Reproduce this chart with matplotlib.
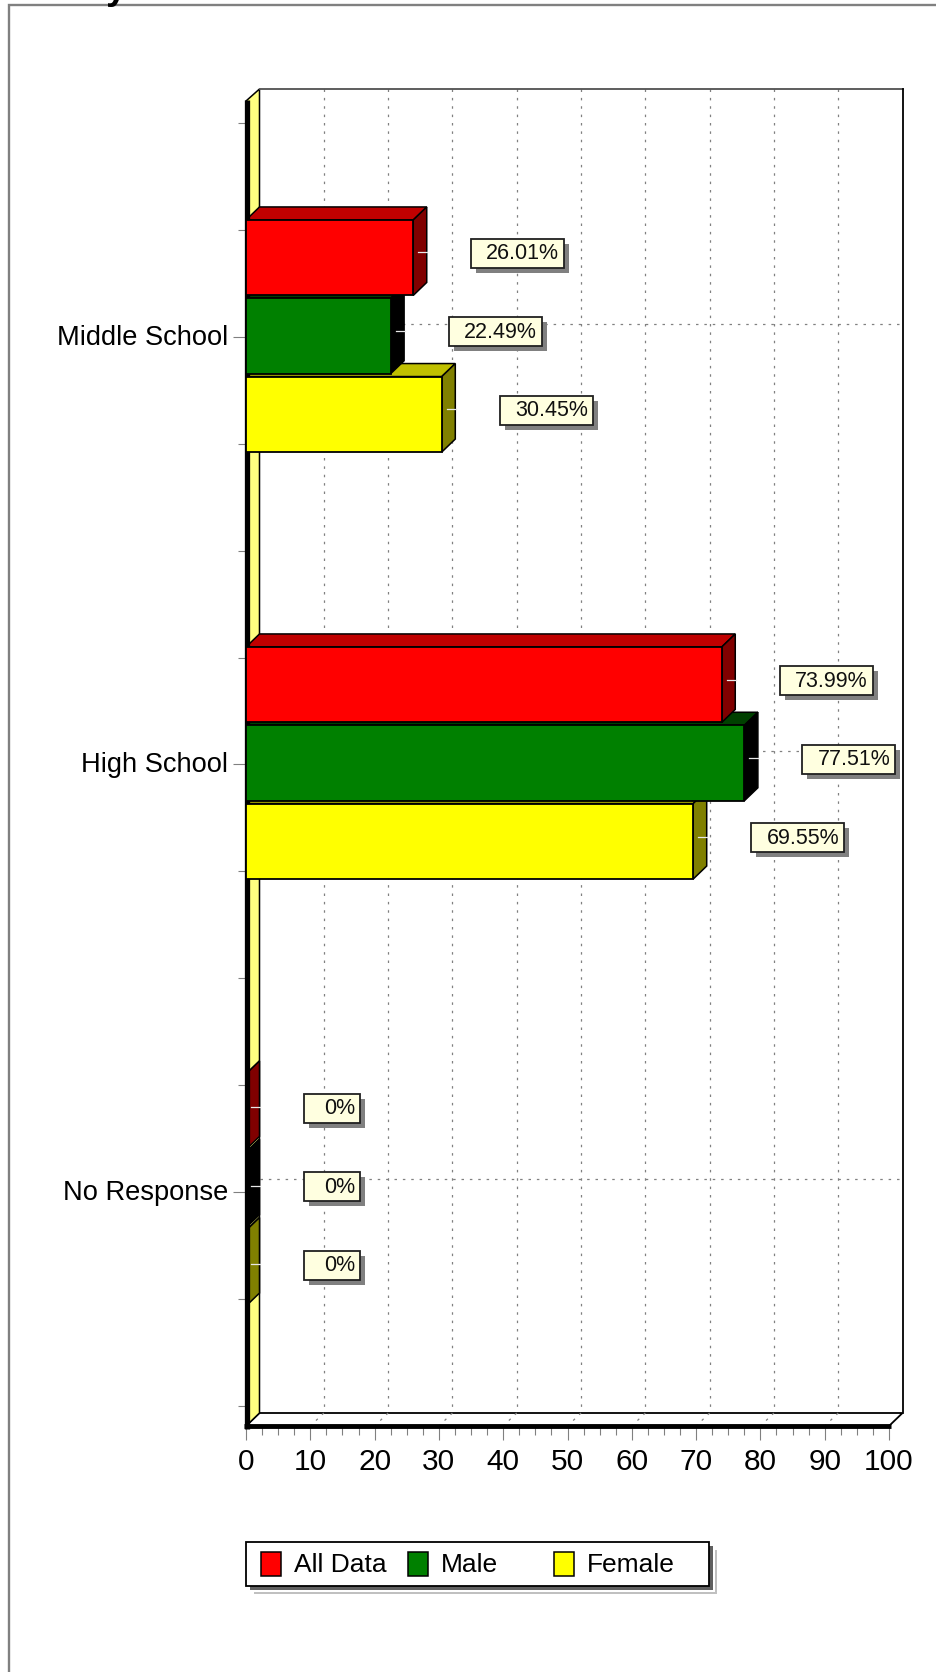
import matplotlib
matplotlib.use('Agg')
from matplotlib import pyplot as plt
from matplotlib.patches import Rectangle
from matplotlib.transforms import ScaledTranslation

plt.rcParams['font.family'] = ['Liberation Sans', 'DejaVu Sans']

categories = ['Middle School', 'High School', 'No Response']
series_names = ['All Data', 'Male', 'Female']
all_data = [26.01, 73.99, 0]
male = [22.49, 77.51, 0]
female = [30.45, 69.55, 0]
x_ticks = [0, 10, 20, 30, 40, 50, 60, 70, 80, 90, 100]

front_colors = ['#ff0000', '#008000', '#ffff00']
top_colors = ['#c00000', '#004000', '#c0c000']
side_colors = ['#800000', '#000000', '#808000']

PX = 100 / 643  # data units per pixel on the x axis
DX = 13.5 * PX
DY = 13
TOP = 101
BOTTOM = 1426

fig = plt.figure(figsize=(9.36, 16.72), dpi=100, facecolor='white')

# overlay in image pixels for the outer frame, title remains and legend
page = fig.add_axes([0, 0, 1, 1])
page.set_xlim(0, 936)
page.set_ylim(1672, 0)
page.axis('off')
page.plot([9, 9, 936], [1672, 5, 5], color='#808080', lw=1.7, solid_joinstyle='miter')
page.text(106, -1, 'y', fontsize=27, fontweight='bold', ha='left', va='baseline', clip_on=False)

ax = fig.add_axes([246 / 936, 1 - BOTTOM / 1672, 643 / 936, (BOTTOM - TOP) / 1672])
ax.patch.set_alpha(0)
ax.set_xlim(0, 100)
ax.set_ylim(BOTTOM, TOP)  # y runs in pixel rows, x in percent
for s in ax.spines.values():
    s.set_visible(False)

# ticks
y_all = [123 + 106.9 * k for k in range(13)]
y_major = [y_all[2], y_all[6], y_all[10]]
ax.set_yticks(y_major)
ax.set_yticklabels(categories, fontsize=19.6)
ax.set_yticks(y_all, minor=True)
ax.set_xticks(x_ticks)
ax.set_xticklabels([str(v) for v in x_ticks], fontsize=21.5)
ax.set_xticks([v * 2.5 for v in range(41)], minor=True)
ax.tick_params(axis='y', which='major', length=9.4, width=0.8, color='#808080', pad=3.6)
ax.tick_params(axis='y', which='minor', length=5.8, width=0.8, color='#808080')
ax.tick_params(axis='x', which='major', length=10, width=0.8, color='#808080', pad=6)
ax.tick_params(axis='x', which='minor', length=6.5, width=0.8, color='#808080')
shift = ScaledTranslation(0, 2 / 100, fig.dpi_scale_trans)
for t in ax.get_yticklabels():
    t.set_transform(t.get_transform() + shift)

# back wall, floor, left wall
back_top = TOP - 12
floor_y = BOTTOM - DY
ax.fill([DX, DX, 100 + DX, 100 + DX], [back_top, floor_y, floor_y, back_top],
        color='white', zorder=0.5, clip_on=False)
ax.plot([DX, 100 + DX], [back_top, back_top], color='#505050', lw=1.3, zorder=2, clip_on=False)
ax.plot([100 + DX, 100 + DX], [back_top, floor_y], color='black', lw=1.3, zorder=2, clip_on=False)
ax.fill([0, DX, 100 + DX, 100], [BOTTOM, floor_y, floor_y, BOTTOM],
        facecolor='white', edgecolor='black', lw=1.3, zorder=1.2, clip_on=False)

# grid on the wall and floor
dots = (0, (2, 4.7))
for v in x_ticks[1:-1]:
    ax.plot([v + DX, v + DX], [back_top, floor_y], color='#808080', lw=0.9, ls=dots, zorder=1, clip_on=False)
    ax.plot([v + DX, v], [floor_y, BOTTOM], color='#808080', lw=0.9, ls=dots, zorder=1.3, clip_on=False)
for y in y_major:
    ax.plot([DX, 100 + DX], [y - DY, y - DY], color='#808080', lw=0.9, ls=dots, zorder=1, clip_on=False)

ax.fill([0, DX, DX, 0], [BOTTOM, floor_y, back_top, TOP],
        facecolor='#ffff80', edgecolor='black', lw=1.1, zorder=1.5, clip_on=False)

# bars, last series first so the upper bars lie over the lower ones
series = [all_data, male, female]
bar_h = 75.5
for j in [2, 1, 0]:
    for i, v in enumerate(series[j]):
        c = 336 + 427 * i + (j - 1) * 78.3
        y0, y1 = c - bar_h / 2, c + bar_h / 2
        ax.fill([0, DX, v + DX, v], [y0, y0 - DY, y0 - DY, y0], facecolor=top_colors[j],
                edgecolor='black', lw=1.1, zorder=3, clip_on=False)
        ax.fill([v, v + DX, v + DX, v], [y0, y0 - DY, y1 - DY, y1], facecolor=side_colors[j],
                edgecolor='black', lw=1.1, zorder=3, clip_on=False)

# heavy axis lines
ax.plot([0.5 * PX, 0.5 * PX], [TOP - 1, BOTTOM + 3], color='black', lw=3.8, zorder=4,
        solid_capstyle='butt', clip_on=False)
ax.plot([-2 * PX, 100 + 1.5 * PX], [BOTTOM, BOTTOM], color='black', lw=3.5, zorder=4,
        solid_capstyle='butt', clip_on=False)

for j in [2, 1, 0]:
    for i, v in enumerate(series[j]):
        c = 336 + 427 * i + (j - 1) * 78.3
        ax.add_patch(Rectangle((0, c - bar_h / 2), v, bar_h, facecolor=front_colors[j],
                               edgecolor='black', lw=1.3, zorder=5, clip_on=False))

        # value label with leader and shadow
        yc = 331.5 + 427.6 * i + (j - 1) * 78.5
        ax.plot([v + 5 * PX, v + 14 * PX], [yc - 1, yc - 1], color='#e8e8e8', lw=0.9, zorder=6, clip_on=False)
        txt = ('%.2f%%' % v) if v else '0%'
        w = 93 if v else 56
        left = v + DX + 44.5 * PX
        ax.add_patch(Rectangle((left + 5 * PX, yc - 14.5 + 5), w * PX, 29, facecolor='#808080',
                               edgecolor='none', zorder=7, clip_on=False))
        ax.add_patch(Rectangle((left, yc - 14.5), w * PX, 29, facecolor='#ffffe0',
                               edgecolor='#202020', lw=1.3, zorder=8, clip_on=False))
        ax.text(left + (w - 5) * PX, yc + 0.5, txt, fontsize=15.5, ha='right', va='center',
                color='#101010', zorder=9, clip_on=False)

# legend
lx, ly, lw, lh = 246, 1542, 463, 44
for off, col in [(8, '#c0c0c0'), (6, 'white'), (4, '#606060')]:
    page.add_patch(Rectangle((lx + off, ly + off), lw, lh, facecolor=col, edgecolor='none'))
page.add_patch(Rectangle((lx, ly), lw, lh, facecolor='white', edgecolor='black', lw=1.3))
swatch_x = [261, 408, 554]
for name, col, sx in zip(series_names, front_colors, swatch_x):
    page.add_patch(Rectangle((sx, 1552), 19.5, 24, facecolor=col, edgecolor='black', lw=1.1))
    page.text(sx + 33, 1565.5, name, fontsize=19, ha='left', va='center')

fig.savefig('out.png', dpi=100)
